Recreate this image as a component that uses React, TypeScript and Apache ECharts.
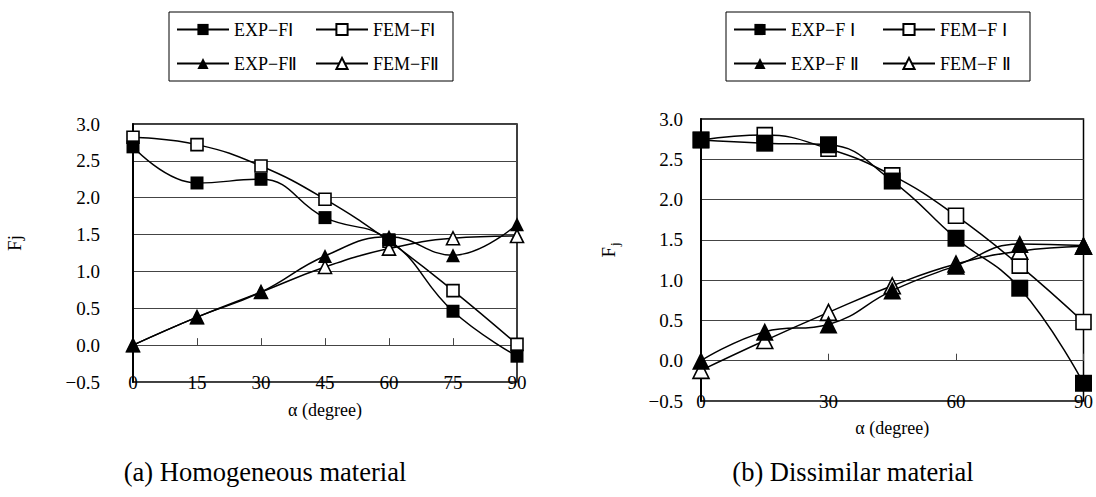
import React, { useEffect, useRef } from "react";
import * as echarts from "echarts";

const angles = [0, 15, 30, 45, 60, 75, 90];

// (a) Homogeneous material
const leftExpF1 = [2.69, 2.2, 2.25, 1.73, 1.43, 0.46, -0.15];
const leftFemF1 = [2.82, 2.72, 2.43, 1.98, 1.41, 0.74, 0.01];
const leftExpF2 = [0.0, 0.38, 0.72, 1.21, 1.47, 1.22, 1.64];
const leftFemF2 = [0.0, 0.38, 0.72, 1.06, 1.31, 1.45, 1.48];
const leftNames = ["EXP−FⅠ", "FEM−FⅠ", "EXP−FⅡ", "FEM−FⅡ"];

// (b) Dissimilar material
const rightExpF1 = [2.74, 2.7, 2.68, 2.23, 1.52, 0.9, -0.28];
const rightFemF1 = [2.74, 2.8, 2.63, 2.3, 1.8, 1.18, 0.48];
const rightExpF2 = [0.0, 0.36, 0.45, 0.87, 1.18, 1.45, 1.43];
const rightFemF2 = [-0.12, 0.25, 0.6, 0.93, 1.2, 1.36, 1.42];
const rightNames = ["EXP−F Ⅰ", "FEM−F Ⅰ", "EXP−F Ⅱ", "FEM−F Ⅱ"];

const yTicks = { min: -0.5, max: 3.0, interval: 0.5 };
const captions = ["(a) Homogeneous material", "(b) Dissimilar material"];
const xTitle = "α (degree)";

const SERIF = "Liberation Serif";

function mkSeries(
  name: string,
  vals: number[],
  axisIdx: number,
  symbol: string,
  filled: boolean,
  size: number,
  z: number
) {
  return {
    type: "line",
    name,
    xAxisIndex: axisIdx * 2,
    yAxisIndex: axisIdx,
    data: angles.map((a, i) => [a, vals[i]]),
    symbol,
    symbolSize: size,
    smooth: 0.45,
    z,
    lineStyle: { color: "#000", width: 1.5 },
    itemStyle: {
      color: filled ? "#000" : "#fff",
      borderColor: "#000",
      borderWidth: filled ? 0 : 1.6,
    },
    emphasis: { disabled: true },
  };
}

function xAxesFor(gridIndex: number, interval: number, nameGap: number) {
  return [
    {
      gridIndex,
      type: "value",
      min: 0,
      max: 90,
      interval,
      position: "bottom",
      axisLine: { show: false, onZero: false },
      axisTick: { show: false },
      splitLine: { show: false },
      axisLabel: { margin: -9, fontSize: 19, fontFamily: SERIF, color: "#000" },
      name: xTitle,
      nameLocation: "middle",
      nameGap,
      nameTextStyle: { fontSize: 18, fontFamily: SERIF, color: "#000" },
    },
    {
      gridIndex,
      type: "value",
      min: 0,
      max: 90,
      interval,
      position: "top",
      axisLine: { show: true, onZero: true, lineStyle: { color: "#444", width: 1 } },
      axisTick: { show: true, length: 7, lineStyle: { color: "#444", width: 1 } },
      axisLabel: { show: false },
      splitLine: { show: false },
    },
  ];
}

function yAxisFor(gridIndex: number, margin: number, name: string, nameGap: number, rich?: any) {
  return {
    gridIndex,
    type: "value",
    ...yTicks,
    axisLine: { show: true, onZero: false, lineStyle: { color: "#000", width: 2 } },
    axisTick: { show: false },
    splitLine: { show: true, lineStyle: { color: "#444", width: 1 } },
    axisLabel: {
      margin,
      fontSize: 19,
      fontFamily: SERIF,
      color: "#000",
      formatter: (v: number) => v.toFixed(1).replace("-", "−"),
    },
    name,
    nameLocation: "middle",
    nameGap,
    nameRotate: 90,
    nameTextStyle: {
      fontSize: 19,
      fontFamily: SERIF,
      color: "#000",
      padding: [0, 0, 0, 20],
      rich,
    },
  };
}

function legendFor(names: string[], left: number, textW: number) {
  return {
    data: names,
    left,
    top: 12,
    orient: "horizontal",
    width: 2 * (52 + 5 + textW) + 30,
    itemWidth: 52,
    itemHeight: 14,
    itemGap: 5,
    padding: [3, 4, 3, 7],
    borderColor: "#000",
    borderWidth: 1,
    selectedMode: false,
    textStyle: {
      fontSize: 18,
      fontFamily: SERIF,
      color: "#000",
      width: textW,
      height: 29,
      lineHeight: 29,
    },
  };
}

export default function App() {
  const ref = useRef<HTMLDivElement>(null);
  useEffect(() => {
    if (!ref.current) return;
    const chart = echarts.init(ref.current, null, { renderer: "svg" });
    chart.setOption({
      animation: false,
      backgroundColor: "#fff",
      grid: [
        { left: 133, top: 124, width: 384, height: 258, show: true, borderColor: "#000", borderWidth: 1.5 },
        { left: 701, top: 119, width: 384, height: 282, show: true, borderColor: "#000", borderWidth: 1.5 },
      ],
      legend: [legendFor(leftNames, 169, 76), legendFor(rightNames, 726, 86)],
      xAxis: [...xAxesFor(0, 15, 19), ...xAxesFor(1, 30, 18)],
      yAxis: [
        yAxisFor(0, 33, "Fj", 109),
        yAxisFor(1, 18, "{a|F}{b|j}", 80, {
          a: { fontSize: 19, fontFamily: SERIF, color: "#000", lineHeight: 26, verticalAlign: "middle" },
          b: { fontSize: 13, fontFamily: SERIF, color: "#000", lineHeight: 26, verticalAlign: "bottom", padding: [8, 0, 0, 1] },
        }),
      ],
      series: [
        mkSeries(leftNames[1], leftFemF1, 0, "rect", false, 12, 2),
        mkSeries(leftNames[3], leftFemF2, 0, "triangle", false, 13, 2),
        mkSeries(leftNames[0], leftExpF1, 0, "rect", true, 13, 3),
        mkSeries(leftNames[2], leftExpF2, 0, "triangle", true, 14, 3),
        mkSeries(rightNames[1], rightFemF1, 1, "rect", false, 15, 2),
        mkSeries(rightNames[3], rightFemF2, 1, "triangle", false, 16, 2),
        mkSeries(rightNames[0], rightExpF1, 1, "rect", true, 17, 3),
        mkSeries(rightNames[2], rightExpF2, 1, "triangle", true, 18, 3),
      ],
      graphic: [
        {
          type: "text",
          x: 265,
          y: 472,
          style: { text: captions[0], fontSize: 26.5, fontFamily: SERIF, fill: "#000", align: "center", verticalAlign: "middle" },
        },
        {
          type: "text",
          x: 853,
          y: 472,
          style: { text: captions[1], fontSize: 26.5, fontFamily: SERIF, fill: "#000", align: "center", verticalAlign: "middle" },
        },
      ],
    });
    return () => chart.dispose();
  }, []);
  return (
    <div
      ref={ref}
      style={{ position: "fixed", left: 0, top: 0, width: 1096, height: 497, background: "#fff" }}
    />
  );
}
